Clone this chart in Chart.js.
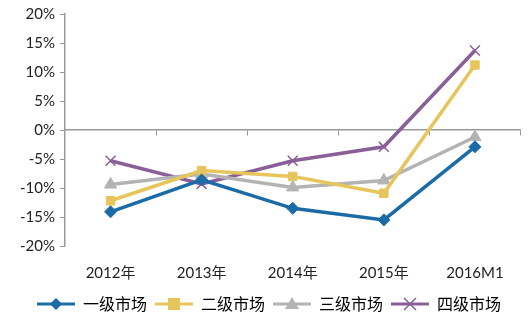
<!DOCTYPE html>
<html><head><meta charset="utf-8">
<script src="https://cdn.jsdelivr.net/npm/chart.js@4/dist/chart.umd.min.js"></script>
<style>html,body{margin:0;padding:0;background:#fff}#w{width:529px;height:322px;position:relative}</style>
</head><body><div id="w"><canvas id="c"></canvas></div>
<script>
const categories = ["2012年","2013年","2014年","2015年","2016M1"];
const seriesNames = ["一级市场","二级市场","三级市场","四级市场"];
const tier1 = [-14.1, -8.6, -13.5, -15.5, -2.9];
const tier2 = [-12.2, -7.0, -8.0, -10.9, 11.2];
const tier3 = [-9.4, -7.6, -9.9, -8.7, -1.2];
const tier4 = [-5.3, -9.3, -5.3, -2.9, 13.7];
const yTicks = [-20,-15,-10,-5,0,5,10,15,20];

const colors = ["#1B6BA6","#E6C65C","#B3B3B3","#8A5E96"];
const styles = ["rectRot","rect","triangle","crossRot"];
const radii = [6,6,7,7];

function legendImg(i){
  const c = document.createElement('canvas');
  c.width = 38; c.height = 16;
  const x = c.getContext('2d');
  x.strokeStyle = colors[i]; x.lineWidth = 3;
  x.beginPath(); x.moveTo(0,8); x.lineTo(38,8); x.stroke();
  x.fillStyle = colors[i];
  const m = 19, r = radii[i];
  if (styles[i]==='rectRot'){ x.beginPath(); x.moveTo(m,8-r); x.lineTo(m+r,8); x.lineTo(m,8+r); x.lineTo(m-r,8); x.closePath(); x.fill(); }
  else if (styles[i]==='rect'){ x.fillRect(m-6,8-6,12,12); }
  else if (styles[i]==='triangle'){ x.beginPath(); x.moveTo(m,1); x.lineTo(m+7,13); x.lineTo(m-7,13); x.closePath(); x.fill(); }
  else { x.lineWidth=1.5; x.beginPath(); x.moveTo(m-6,2); x.lineTo(m+6,14); x.moveTo(m+6,2); x.lineTo(m-6,14); x.stroke(); }
  return c;
}

const allData = [tier1,tier2,tier3,tier4];
const datasets = allData.map((d,i)=>({
  label: seriesNames[i],
  data: d,
  borderColor: colors[i],
  backgroundColor: colors[i],
  borderWidth: 3.5,
  pointStyle: styles[i],
  pointRadius: radii[i],
  pointBorderWidth: styles[i]==='crossRot' ? 1.5 : 1,
  pointBackgroundColor: colors[i],
  pointBorderColor: colors[i],
  tension: 0,
  xAxisID: 'x'
}));

new Chart(document.getElementById('c'), {
  type: 'line',
  data: { labels: categories, datasets },
  options: {
    responsive: true, maintainAspectRatio: false, animation: false,
    layout: { padding: { top: 10, right: 6, left: 15, bottom: 0 } },
    scales: {
      x: {
        type: 'category', position: 'bottom', offset: true,
        grid: { display: false }, border: { display: false },
        ticks: { color: '#222', font: { family: 'Lato, "Noto Sans CJK SC"', size: 15 }, padding: 10, maxRotation: 0 },
        afterFit: s => { s.height = 42; }
      },
      x2: {
        type: 'category', position: { y: 0 }, offset: true,
        grid: { display: true, offset: true, drawOnChartArea: false, drawTicks: true, tickLength: 5, color: '#999', lineWidth: 1 },
        border: { display: true, color: '#999', width: 1.5 },
        ticks: { display: false },
        afterFit: s => { s.height = 0; }
      },
      y: {
        min: -20, max: 20,
        afterBuildTicks: s => { s.ticks = yTicks.map(v=>({value:v})); },
        grid: { display: true, drawOnChartArea: false, drawTicks: true, tickLength: 5, color: '#999' },
        border: { display: true, color: '#999', width: 1.5 },
        ticks: { color: '#222', font: { family: 'Lato', size: 15 }, padding: 5, callback: v => v + '%' }
      }
    },
    plugins: {
      tooltip: { enabled: false },
      legend: {
        position: 'bottom',
        labels: {
          usePointStyle: true, pointStyleWidth: 38, padding: 8,
          color: '#404040', font: { family: '"Noto Sans CJK SC"', size: 16 },
          generateLabels: chart => chart.data.datasets.map((ds,i)=>({
            text: ds.label, pointStyle: legendImg(i), fillStyle: colors[i], strokeStyle: colors[i],
            lineWidth: 0, hidden: false, datasetIndex: i
          }))
        }
      }
    }
  }
});
</script></body></html>
